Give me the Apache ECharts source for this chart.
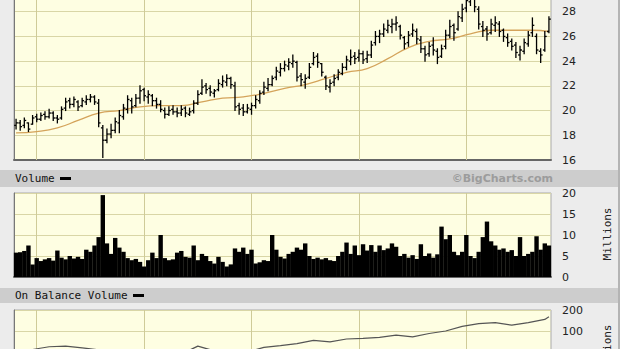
<!DOCTYPE html>
<html>
<head>
<meta charset="utf-8">
<script src="https://cdn.jsdelivr.net/npm/echarts@6/dist/echarts.min.js"></script>
<style>
html,body{margin:0;padding:0;background:#ececec;overflow:hidden;width:620px;height:349px;}
#c{position:absolute;left:0;top:-30px;width:620px;height:419px;}
</style>
</head>
<body>
<div id="c"></div>
<script>
// ---- data (bi-weekly bars, ~5 years) ----
const op = [18.8,19.0,18.8,19.0,18.9,19.5,19.3,19.7,19.5,19.8,19.4,19.4,20.2,20.8,20.5,20.7,20.4,20.7,20.9,21.1,
  20.6,18.6,17.6,18.1,18.4,19.0,19.5,20.1,20.8,20.4,21.0,21.7,21.1,21.2,20.8,20.5,20.0,19.7,20.1,19.9,
  19.8,20.2,19.7,20.0,20.6,21.4,22.0,21.8,21.4,21.7,22.1,22.3,22.6,22.0,20.4,20.2,19.9,20.1,20.4,20.8,
  21.5,21.8,22.1,22.7,23.1,23.4,23.6,23.8,23.9,22.8,22.3,22.7,23.8,24.4,23.8,22.7,21.9,22.3,22.7,23.0,
  23.5,24.0,24.4,24.3,24.6,24.2,24.5,25.5,26.0,26.2,26.5,26.8,27.0,26.8,25.9,25.5,26.2,26.4,25.7,25.0,
  24.6,25.3,24.8,24.4,25.2,26.1,26.9,26.6,27.5,28.3,28.8,29.1,28.2,26.8,26.6,26.3,26.9,27.0,26.5,25.9,
  25.6,25.3,24.5,24.8,25.4,26.3,26.0,24.8,24.9,26.4];
const hi = [19.3,19.2,19.4,19.0,19.6,19.7,19.8,19.9,20.1,19.9,19.6,20.3,21.0,21.0,21.1,20.8,21.0,21.2,21.3,21.2,
  20.9,18.8,18.5,18.9,19.4,20.0,20.5,21.2,21.0,21.3,22.0,21.8,21.6,21.3,21.0,20.8,20.2,20.3,20.4,20.2,
  20.4,20.3,20.2,20.8,21.6,22.5,22.2,22.0,21.7,22.5,22.8,22.9,22.7,22.3,20.6,20.5,20.5,20.6,21.2,21.6,
  22.3,22.6,22.8,23.5,23.8,24.0,24.2,24.5,24.0,23.0,22.9,23.8,24.7,24.6,23.8,22.8,22.5,22.9,23.3,23.8,
  24.4,24.9,24.7,24.9,24.8,24.8,25.6,26.4,26.5,27.0,27.3,27.4,27.6,26.9,26.0,26.4,27.0,26.6,26.0,25.2,
  25.5,25.9,25.0,25.3,26.5,27.3,27.0,28.0,28.6,29.3,29.6,29.4,28.4,27.2,26.8,27.4,27.6,27.2,26.6,26.2,
  25.8,25.5,25.2,25.8,26.4,27.5,26.2,25.0,26.4,27.6];
const lo = [18.5,18.4,18.6,18.3,18.9,19.1,19.2,19.3,19.4,19.2,19.0,19.3,20.0,20.2,20.3,20.0,20.3,20.5,20.7,20.5,
  18.7,16.2,17.4,17.8,18.2,18.2,19.3,19.8,19.8,20.3,20.6,20.8,20.6,20.4,20.2,19.9,19.4,19.6,19.7,19.5,
  19.6,19.5,19.6,19.8,20.5,21.3,21.4,21.2,21.1,21.6,21.9,22.0,21.8,20.0,19.7,19.6,19.8,19.7,20.2,20.6,
  21.3,21.6,22.0,22.5,22.8,23.2,23.3,23.5,22.4,22.0,21.8,22.6,23.7,23.5,22.8,21.7,21.5,22.0,22.5,22.9,
  23.3,23.7,23.8,24.0,23.8,23.9,24.3,25.3,25.5,26.0,26.3,26.3,26.5,25.8,25.0,25.2,26.0,25.4,24.7,24.0,
  24.4,24.5,23.8,24.3,25.0,25.9,25.7,26.5,27.2,28.0,28.5,28.0,26.6,26.0,25.7,26.2,26.4,26.0,25.6,25.2,
  24.9,24.3,24.1,24.6,25.2,26.0,24.6,23.9,24.8,26.3];
const cl = [19.0,18.7,19.2,18.5,19.4,19.3,19.6,19.5,19.8,19.4,19.3,20.1,20.7,20.5,20.9,20.3,20.8,20.9,21.1,20.7,
  19.0,17.6,18.1,18.4,19.1,19.6,20.2,20.9,20.3,21.0,21.6,21.2,21.3,20.8,20.5,20.1,19.7,20.0,19.9,19.8,
  20.1,19.8,19.9,20.6,21.3,21.9,21.7,21.5,21.6,22.2,22.4,22.6,22.1,20.3,20.1,19.9,20.2,20.4,20.9,21.4,
  21.9,22.1,22.6,23.2,23.4,23.7,23.9,24.0,22.7,22.5,22.6,23.5,24.3,23.9,23.1,22.0,22.2,22.6,23.1,23.5,
  24.1,24.3,24.2,24.6,24.1,24.5,25.3,26.0,26.2,26.6,26.9,27.0,27.1,26.1,25.4,26.1,26.5,25.8,25.0,24.5,
  25.2,24.9,24.3,25.0,26.1,26.8,26.3,27.6,28.2,28.9,29.0,28.4,27.0,26.5,26.2,27.0,27.1,26.4,26.0,25.5,
  25.2,24.7,24.9,25.5,26.1,26.9,24.9,24.5,26.0,27.4];
const vol = [5.8,5.9,6.2,7.5,3.0,4.5,3.8,4.2,4.5,3.9,6.3,4.6,4.2,5.0,4.4,4.8,4.3,6.5,6.0,7.5,
  9.5,19.5,8.0,5.5,9.3,7.0,6.0,4.5,4.0,4.3,3.6,2.5,4.0,5.8,4.5,10.0,4.5,4.0,4.2,5.8,
  6.2,4.8,4.6,7.5,4.0,5.5,5.0,3.8,3.2,4.8,3.6,2.5,3.0,6.8,6.0,7.0,5.5,6.5,3.2,3.5,
  4.0,3.8,10.0,6.5,4.8,4.4,5.5,6.0,7.0,6.5,8.0,5.0,4.3,4.6,4.2,4.5,4.0,3.8,5.0,6.0,
  8.2,5.5,7.5,5.2,7.8,6.3,7.6,6.0,7.5,6.4,6.8,8.0,7.2,5.0,5.5,4.6,5.2,4.3,7.8,5.0,
  5.6,4.6,5.4,12.0,9.0,10.0,6.0,5.2,6.0,10.0,5.0,4.5,6.0,9.5,13.2,8.5,7.5,6.5,6.8,6.0,
  6.4,5.0,9.5,5.0,5.5,6.0,9.7,6.5,8.0,7.5];
const maBar = [0,5,10,15,20,25,30,35,40,45,50,55,60,65,70,75,80,85,90,95,100,105,110,115,120,125,129];
const ma = [18.2,18.3,18.6,19.2,19.8,20.0,20.3,20.4,20.4,20.7,21.0,21.1,21.4,21.8,22.1,22.6,23.1,23.4,24.2,25.1,
  25.6,25.8,26.2,26.5,26.5,26.5,26.4];
const obvBar = [0,4,8,12,16,20,24,28,32,36,40,44,48,52,56,60,64,68,72,76,80,84,88,92,96,100,104,108,112,116,120,124,128,129];
const obv = [5,12,25,28,20,10,-5,0,-10,-20,-10,28,5,-10,0,22,30,40,55,48,62,65,70,80,72,88,100,122,135,140,128,140,155,168];
const yearLines = [11,63,115,167,219];   // week positions of vertical gridlines
const priceTicks = {min:16, max:30, interval:2};
const volTicks = {min:0, max:20, interval:5};
const obvTicks = {min:-100, max:200, interval:100};

const wk = i => 1 + 2 * i;
const priceData = hi.map((h, i) => [wk(i), op[i], h, lo[i], cl[i]]);
const volData = vol.map((v, i) => [wk(i), v]);
const maData = ma.map((v, k) => [wk(maBar[k]), v]);
const obvData = obv.map((v, k) => [wk(obvBar[k]), v]);

const gridBg = '#fefee2', splitCol = '#d9d6a6', vCol = '#cfcb98';
const lblStyle = {fontFamily:'DejaVu Sans', fontSize:11, color:'#222', margin:11};
const vLines = {
  silent:true, symbol:'none', z:1, label:{show:false},
  lineStyle:{color:vCol, type:'solid', width:1},
  data: yearLines.map(x => ({xAxis:x}))
};
function xAx(g){
  return {type:'value', gridIndex:g, min:0, max:260, show:true,
    axisLine:{show:true, onZero:false, lineStyle:{color:'#666', width:2}},
    axisTick:{show:false}, axisLabel:{show:false}, splitLine:{show:false}};
}
function yAx(g, t, lblMin, lblMax){
  const lbl = Object.assign({}, lblStyle);
  const a = lblMin === undefined ? -Infinity : lblMin;
  const b = lblMax === undefined ? Infinity : lblMax;
  lbl.formatter = v => (v >= a && v <= b ? String(v) : '');
  return {type:'value', gridIndex:g, position:'right', min:t.min, max:t.max, interval:t.interval,
    axisLine:{show:true, lineStyle:{color:'#777', width:1}}, axisTick:{show:false},
    axisLabel:lbl, splitLine:{show:true, lineStyle:{color:splitCol, width:1}}};
}
const gridCommon = {left:14, right:69, show:true, backgroundColor:gridBg, borderColor:'#aaa', borderWidth:1};
const OY = 30; // container is shifted up by this many pixels

const chart = echarts.init(document.getElementById('c'), null, {renderer:'svg'});
chart.setOption({
  backgroundColor:'#ececec',
  animation:false,
  grid:[
    Object.assign({top:17, bottom:229}, gridCommon),
    Object.assign({top:223, bottom:112}, gridCommon),
    Object.assign({top:340, bottom:16}, gridCommon)
  ],
  xAxis:[xAx(0), xAx(1), xAx(2)],
  yAxis:[yAx(0, priceTicks, 16, 28), yAx(1, volTicks), yAx(2, obvTicks, 100)],
  graphic:[
    {type:'rect', shape:{x:0, y:170+OY, width:619, height:17}, style:{fill:'#cdcdcd'}, z:-1},
    {type:'rect', shape:{x:0, y:288+OY, width:619, height:15}, style:{fill:'#cdcdcd'}, z:-1},
    {type:'rect', shape:{x:618, y:0, width:2, height:419}, style:{fill:'#b4b4b4'}, z:-1},
    {type:'text', x:15, y:178.5+OY, style:{text:'Volume', font:'11px "DejaVu Sans Mono"', fill:'#111', textVerticalAlign:'middle'}},
    {type:'rect', shape:{x:60, y:177+OY, width:11, height:3}, style:{fill:'#000'}},
    {type:'text', x:553, y:178.5+OY, style:{text:'©BigCharts.com', font:'bold 11px "DejaVu Sans"', fill:'#9c9c9c', textAlign:'right', textVerticalAlign:'middle'}},
    {type:'text', x:15, y:295.5+OY, style:{text:'On Balance Volume', font:'11px "DejaVu Sans Mono"', fill:'#111', textVerticalAlign:'middle'}},
    {type:'rect', shape:{x:133, y:294+OY, width:11, height:3}, style:{fill:'#000'}},
    {type:'text', x:607, y:234+OY, rotation:Math.PI/2, style:{text:'Millions', font:'11px "DejaVu Sans Mono"', fill:'#222', textAlign:'center', textVerticalAlign:'middle'}},
    {type:'text', x:607, y:351+OY, rotation:Math.PI/2, style:{text:'Millions', font:'11px "DejaVu Sans Mono"', fill:'#222', textAlign:'center', textVerticalAlign:'middle'}}
  ],
  series:[
    {type:'custom', name:'Price', xAxisIndex:0, yAxisIndex:0, data:priceData,
      encode:{x:0, y:[1,2,3,4]},
      renderItem:function(params, api){
        const x = api.value(0);
        const pO = api.coord([x, api.value(1)]);
        const pHi = api.coord([x, api.value(2)]);
        const pLo = api.coord([x, api.value(3)]);
        const pC = api.coord([x, api.value(4)]);
        const st = {stroke:'#000', lineWidth:1.3};
        return {type:'group', children:[
          {type:'line', shape:{x1:pLo[0], y1:pLo[1]+0.5, x2:pHi[0], y2:pHi[1]-0.5}, style:st},
          {type:'line', shape:{x1:pO[0]-1.9, y1:pO[1], x2:pO[0], y2:pO[1]}, style:st},
          {type:'line', shape:{x1:pC[0], y1:pC[1], x2:pC[0]+1.9, y2:pC[1]}, style:st}
        ]};
      },
      markLine:vLines, z:3},
    {type:'line', name:'MA', xAxisIndex:0, yAxisIndex:0, data:maData, smooth:true, showSymbol:false,
      lineStyle:{color:'#d4a35a', width:1.3}, z:2},
    {type:'bar', name:'Volume', xAxisIndex:1, yAxisIndex:1, data:volData, barWidth:4.4,
      itemStyle:{color:'#000'}, markLine:vLines, z:2},
    {type:'line', name:'OBV', xAxisIndex:2, yAxisIndex:2, data:obvData, showSymbol:false,
      lineStyle:{color:'#555', width:1.2}, markLine:vLines, z:2}
  ]
});
</script>
</body>
</html>
